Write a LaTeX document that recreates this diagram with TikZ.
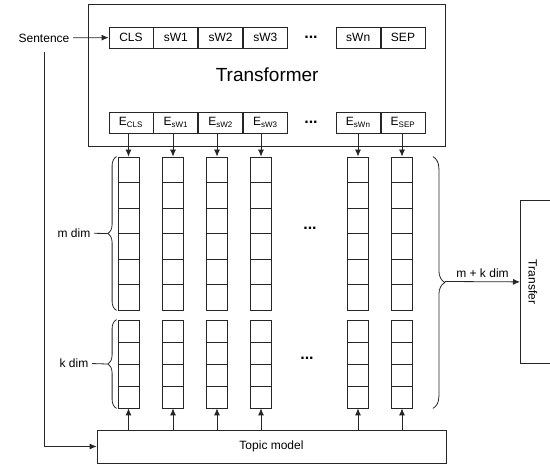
\documentclass[tikz,border=0pt]{standalone}
\usepackage{fontspec}
\setmainfont{Liberation Sans}
\usetikzlibrary{positioning, decorations.pathreplacing, arrows.meta}

\tikzset{
  token/.style={draw, minimum width=44pt, minimum height=21pt, inner sep=0pt, font=\fontsize{12}{14}\selectfont},
  cell/.style={draw, minimum width=21pt, inner sep=0pt},
  mcell/.style={cell, minimum height=25.5pt},
  kcell/.style={cell, minimum height=22pt},
  lbl/.style={font=\fontsize{12}{14}\selectfont},
  dotsl/.style={font=\fontsize{16}{16}\selectfont\bfseries},
  dimbrace/.style={decorate, decoration={brace, amplitude=#1}},
  dimbrace/.default=9pt
}

\begin{document}
\begin{tikzpicture}[x=1pt, y=-1pt, line width=0.8pt, draw=black!85, >={Latex[length=7pt, width=6pt]}]

      \useasboundingbox (0,0) rectangle (550,465);

      % 1. Transformer y entrada
      \node (transformer) [draw, minimum width=357pt, minimum height=142pt, font=\fontsize{19}{21}\selectfont] at (267.2,75) {Transformer};
      \node (sentence) [lbl] at (44,38) {Sentence};

      % tokens de entrada
      \node (cls) [token] at (131,37.5) {CLS};
      \node (w1) [token, right=0pt of cls] {sW1};
      \node (w2) [token, right=0pt of w1] {sW2};
      \node (w3) [token, right=0pt of w2] {sW3};
      \node (sep) [token] at (403,37.5) {SEP};
      \node (wn) [token, left=0pt of sep] {sWn};
      \node (dots1) [dotsl] at (311,37) {...};

      % embeddings de salida
      \node (ecls) [token] at (131,122.5) {E\textsubscript{CLS}};
      \node (ew1) [token, right=0pt of ecls] {E\textsubscript{sW1}};
      \node (ew2) [token, right=0pt of ew1] {E\textsubscript{sW2}};
      \node (ew3) [token, right=0pt of ew2] {E\textsubscript{sW3}};
      \node (esep) [token] at (403,122.5) {E\textsubscript{SEP}};
      \node (ewn) [token, left=0pt of esep] {E\textsubscript{sWn}};
      \node (dots2) [dotsl] at (311,122) {...};

      \draw[->] (sentence) -- (cls);

      % 2. Topic model
      \node (topic) [draw, lbl, minimum width=349pt, minimum height=33pt] at (271.5,446.5) {Topic model};
      \draw[->] ([yshift=-6pt]sentence.south) |- (topic.west);

      % 3. Vectores (m dim arriba, k dim abajo)
      \foreach \x [count=\i] in {128.5,173,217,261,358,402} {
        \foreach \j in {1,...,6}
          \node (m\i-\j) [mcell] at (\x, {144.25+25.5*\j}) {};
        \foreach \j in {1,...,4}
          \node (k\i-\j) [kcell] at (\x, {309+22*\j}) {};
      }
      \node (dots3) [dotsl] at (310,228) {...};
      \node (dots4) [dotsl] at (307,358) {...};

      \foreach \e [count=\i] in {ecls,ew1,ew2,ew3,ewn,esep}
        \draw[->] (m\i-1.north |- \e.south) -- (m\i-1.north);
      \foreach \i in {1,...,6}
        \draw[->] (k\i-4.south |- topic.north) -- (k\i-4.south);

      % 4. Llaves y etiquetas
      \draw[dimbrace] ([xshift=-1pt]m1-6.south west) -- ([xshift=-1pt]m1-1.north west);
      \coordinate (mtip) at (107,233.5);
      \node (mdim) [lbl] at (74,233) {m dim};
      \draw (mdim) -- (mtip);

      \draw[dimbrace] ([xshift=-1pt]k1-4.south west) -- ([xshift=-1pt]k1-1.north west);
      \coordinate (ktip) at (107,364);
      \node (kdim) [lbl] at (74,363) {k dim};
      \draw (kdim) -- (ktip);

      \draw[dimbrace=12pt] ([xshift=20pt]m6-1.north east) -- ([xshift=20pt]k6-4.south east);
      \coordinate (alltip) at (445,281.5);

      % 5. Transfer
      \node (tbox) [draw, minimum width=60pt, minimum height=163pt, anchor=north west] at (520,200) {};
      \node (transfer) [lbl, rotate=-90] at (533,282) {Transfer};
      \draw[->] (alltip) -- node[lbl, above] {m + k dim} (tbox.west);

    \end{tikzpicture}
\end{document}
